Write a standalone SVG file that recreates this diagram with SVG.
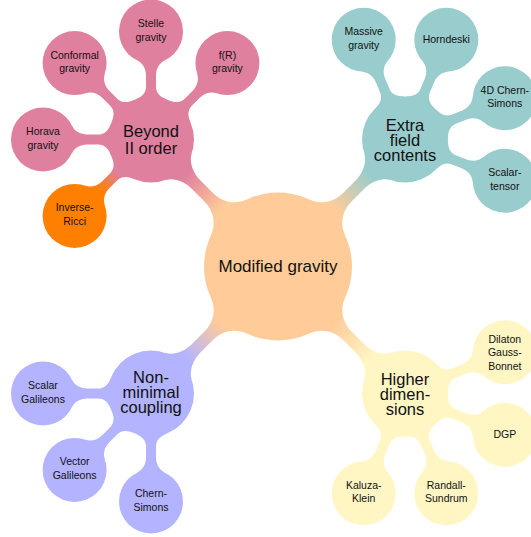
<svg xmlns="http://www.w3.org/2000/svg" width="531" height="537" viewBox="0 0 531 537">
<style>
text{font-family:"Liberation Sans",Arial,sans-serif;text-anchor:middle;fill:#111}
.t0{font-size:17px}
.t1{font-size:16.5px}
.t2{font-size:10.5px}
.cr{fill:#FFCC99}
.cp{fill:#DF809F}
.ct{fill:#99CCCC}
.cb{fill:#B3B3FF}
.cy{fill:#FFF6C4}
.co{fill:#FF8000}
</style>
<defs>
<linearGradient id="gP" gradientUnits="userSpaceOnUse" x1="74" y1="0" x2="136.6" y2="0"><stop offset="0.1" stop-color="#FFCC99"/><stop offset="0.9" stop-color="#DF809F"/></linearGradient>
<linearGradient id="gT" gradientUnits="userSpaceOnUse" x1="74" y1="0" x2="136.6" y2="0"><stop offset="0.1" stop-color="#FFCC99"/><stop offset="0.9" stop-color="#99CCCC"/></linearGradient>
<linearGradient id="gB" gradientUnits="userSpaceOnUse" x1="74" y1="0" x2="136.6" y2="0"><stop offset="0.1" stop-color="#FFCC99"/><stop offset="0.9" stop-color="#B3B3FF"/></linearGradient>
<linearGradient id="gY" gradientUnits="userSpaceOnUse" x1="74" y1="0" x2="136.6" y2="0"><stop offset="0.1" stop-color="#FFCC99"/><stop offset="0.9" stop-color="#FFF6C4"/></linearGradient>
<linearGradient id="gO" gradientUnits="userSpaceOnUse" x1="43" y1="0" x2="76" y2="0"><stop offset="0.1" stop-color="#DF809F"/><stop offset="0.9" stop-color="#FF8000"/></linearGradient>
<path id="bar1" d="M69.5,-25.3 C73.6,-14 84,-6 98,-6 L116,-6 C126,-6 136.9,-10.8 140.9,-18.9 L140.9,18.9 C136.9,10.8 126,6 116,6 L98,6 C84,6 73.6,14 69.5,25.3 Z"/>
<path id="bar2" d="M39.9,-16.1 C42.5,-9.6 46,-5 53,-5 L64,-5 C71,-5 76.6,-8.6 79.2,-14 L79.2,14 C76.6,8.6 71,5 64,5 L53,5 C46,5 42.5,9.6 39.9,16.1 Z"/>
</defs>
<g id="connectors">
<use href="#bar1" fill="url(#gP)" transform="translate(278,266.5) rotate(-135)"/>
<use href="#bar1" fill="url(#gT)" transform="translate(278,266.5) rotate(-45)"/>
<use href="#bar1" fill="url(#gB)" transform="translate(278,266.5) rotate(135)"/>
<use href="#bar1" fill="url(#gY)" transform="translate(278,266.5) rotate(45)"/>
<use href="#bar2" class="cp" transform="translate(151,139.5) rotate(-90)"/>
<use href="#bar2" class="cp" transform="translate(151,139.5) rotate(-135)"/>
<use href="#bar2" class="cp" transform="translate(151,139.5) rotate(-45)"/>
<use href="#bar2" class="cp" transform="translate(151,139.5) rotate(180)"/>
<use href="#bar2" fill="url(#gO)" transform="translate(151,139.5) rotate(135)"/>
<use href="#bar2" class="ct" transform="translate(405,139.5) rotate(-112.5)"/>
<use href="#bar2" class="ct" transform="translate(405,139.5) rotate(-67.5)"/>
<use href="#bar2" class="ct" transform="translate(405,139.5) rotate(-22.5)"/>
<use href="#bar2" class="ct" transform="translate(405,139.5) rotate(22.5)"/>
<use href="#bar2" class="cb" transform="translate(151,393.5) rotate(180)"/>
<use href="#bar2" class="cb" transform="translate(151,393.5) rotate(135)"/>
<use href="#bar2" class="cb" transform="translate(151,393.5) rotate(90)"/>
<use href="#bar2" class="cy" transform="translate(405,393.5) rotate(-22.5)"/>
<use href="#bar2" class="cy" transform="translate(405,393.5) rotate(22.5)"/>
<use href="#bar2" class="cy" transform="translate(405,393.5) rotate(112.5)"/>
<use href="#bar2" class="cy" transform="translate(405,393.5) rotate(67.5)"/>
</g>
<g id="root"><circle class="cr" cx="278" cy="266.5" r="74"/><text class="t0" x="278" y="272">Modified gravity</text></g>
<g id="beyond"><circle class="cp" cx="151" cy="139.5" r="43"/><text class="t1"><tspan x="151" y="137.3">Beyond</tspan><tspan x="151" y="154">II order</tspan></text></g>
<g id="extra"><circle class="ct" cx="405" cy="139.5" r="43"/><text class="t1"><tspan x="405" y="131">Extra</tspan><tspan x="405" y="146">field</tspan><tspan x="405" y="161">contents</tspan></text></g>
<g id="nonminimal"><circle class="cb" cx="151" cy="393.5" r="43"/><text class="t1"><tspan x="151" y="383">Non-</tspan><tspan x="151" y="398">minimal</tspan><tspan x="151" y="413">coupling</tspan></text></g>
<g id="higher"><circle class="cy" cx="405" cy="393.5" r="43"/><text class="t1"><tspan x="405" y="385">Higher</tspan><tspan x="405" y="400">dimen-</tspan><tspan x="405" y="415">sions</tspan></text></g>
<g id="stelle"><circle class="cp" cx="151" cy="31.5" r="32"/><text class="t2"><tspan x="151" y="27">Stelle</tspan><tspan x="151" y="40.5">gravity</tspan></text></g>
<g id="conformal"><circle class="cp" cx="74.6" cy="63.1" r="32"/><text class="t2"><tspan x="74.6" y="58.6">Conformal</tspan><tspan x="74.6" y="72.1">gravity</tspan></text></g>
<g id="fR"><circle class="cp" cx="227.4" cy="63.1" r="32"/><text class="t2"><tspan x="227.4" y="58.6">f(R)</tspan><tspan x="227.4" y="72.1">gravity</tspan></text></g>
<g id="horava"><circle class="cp" cx="43" cy="139.5" r="32"/><text class="t2"><tspan x="43" y="135">Horava</tspan><tspan x="43" y="148.5">gravity</tspan></text></g>
<g id="inverse-ricci"><circle class="co" cx="74.6" cy="215.9" r="32"/><text class="t2"><tspan x="74.6" y="211.4">Inverse-</tspan><tspan x="74.6" y="224.9">Ricci</tspan></text></g>
<g id="massive"><circle class="ct" cx="363.7" cy="39.7" r="32"/><text class="t2"><tspan x="363.7" y="35.2">Massive</tspan><tspan x="363.7" y="48.7">gravity</tspan></text></g>
<g id="horndeski"><circle class="ct" cx="446.3" cy="39.7" r="32"/><text class="t2" x="446.3" y="43.2">Horndeski</text></g>
<g id="chern-simons-4d"><circle class="ct" cx="504.8" cy="98.2" r="32"/><text class="t2"><tspan x="504.8" y="93.7">4D Chern-</tspan><tspan x="504.8" y="107.2">Simons</tspan></text></g>
<g id="scalar-tensor"><circle class="ct" cx="504.8" cy="180.8" r="32"/><text class="t2"><tspan x="504.8" y="176.3">Scalar-</tspan><tspan x="504.8" y="189.8">tensor</tspan></text></g>
<g id="scalar-galileons"><circle class="cb" cx="43" cy="393.5" r="32"/><text class="t2"><tspan x="43" y="389">Scalar</tspan><tspan x="43" y="402.5">Galileons</tspan></text></g>
<g id="vector-galileons"><circle class="cb" cx="74.6" cy="469.9" r="32"/><text class="t2"><tspan x="74.6" y="465.4">Vector</tspan><tspan x="74.6" y="478.9">Galileons</tspan></text></g>
<g id="chern-simons"><circle class="cb" cx="151" cy="501.5" r="32"/><text class="t2"><tspan x="151" y="497">Chern-</tspan><tspan x="151" y="510.5">Simons</tspan></text></g>
<g id="dilaton"><circle class="cy" cx="504.8" cy="352.2" r="32"/><text class="t2"><tspan x="504.8" y="342.7">Dilaton</tspan><tspan x="504.8" y="356.2">Gauss-</tspan><tspan x="504.8" y="369.7">Bonnet</tspan></text></g>
<g id="dgp"><circle class="cy" cx="504.8" cy="434.8" r="32"/><text class="t2" x="504.8" y="438.3">DGP</text></g>
<g id="kaluza-klein"><circle class="cy" cx="363.7" cy="493.3" r="32"/><text class="t2"><tspan x="363.7" y="488.8">Kaluza-</tspan><tspan x="363.7" y="502.3">Klein</tspan></text></g>
<g id="randall-sundrum"><circle class="cy" cx="446.3" cy="493.3" r="32"/><text class="t2"><tspan x="446.3" y="488.8">Randall-</tspan><tspan x="446.3" y="502.3">Sundrum</tspan></text></g>
</svg>
